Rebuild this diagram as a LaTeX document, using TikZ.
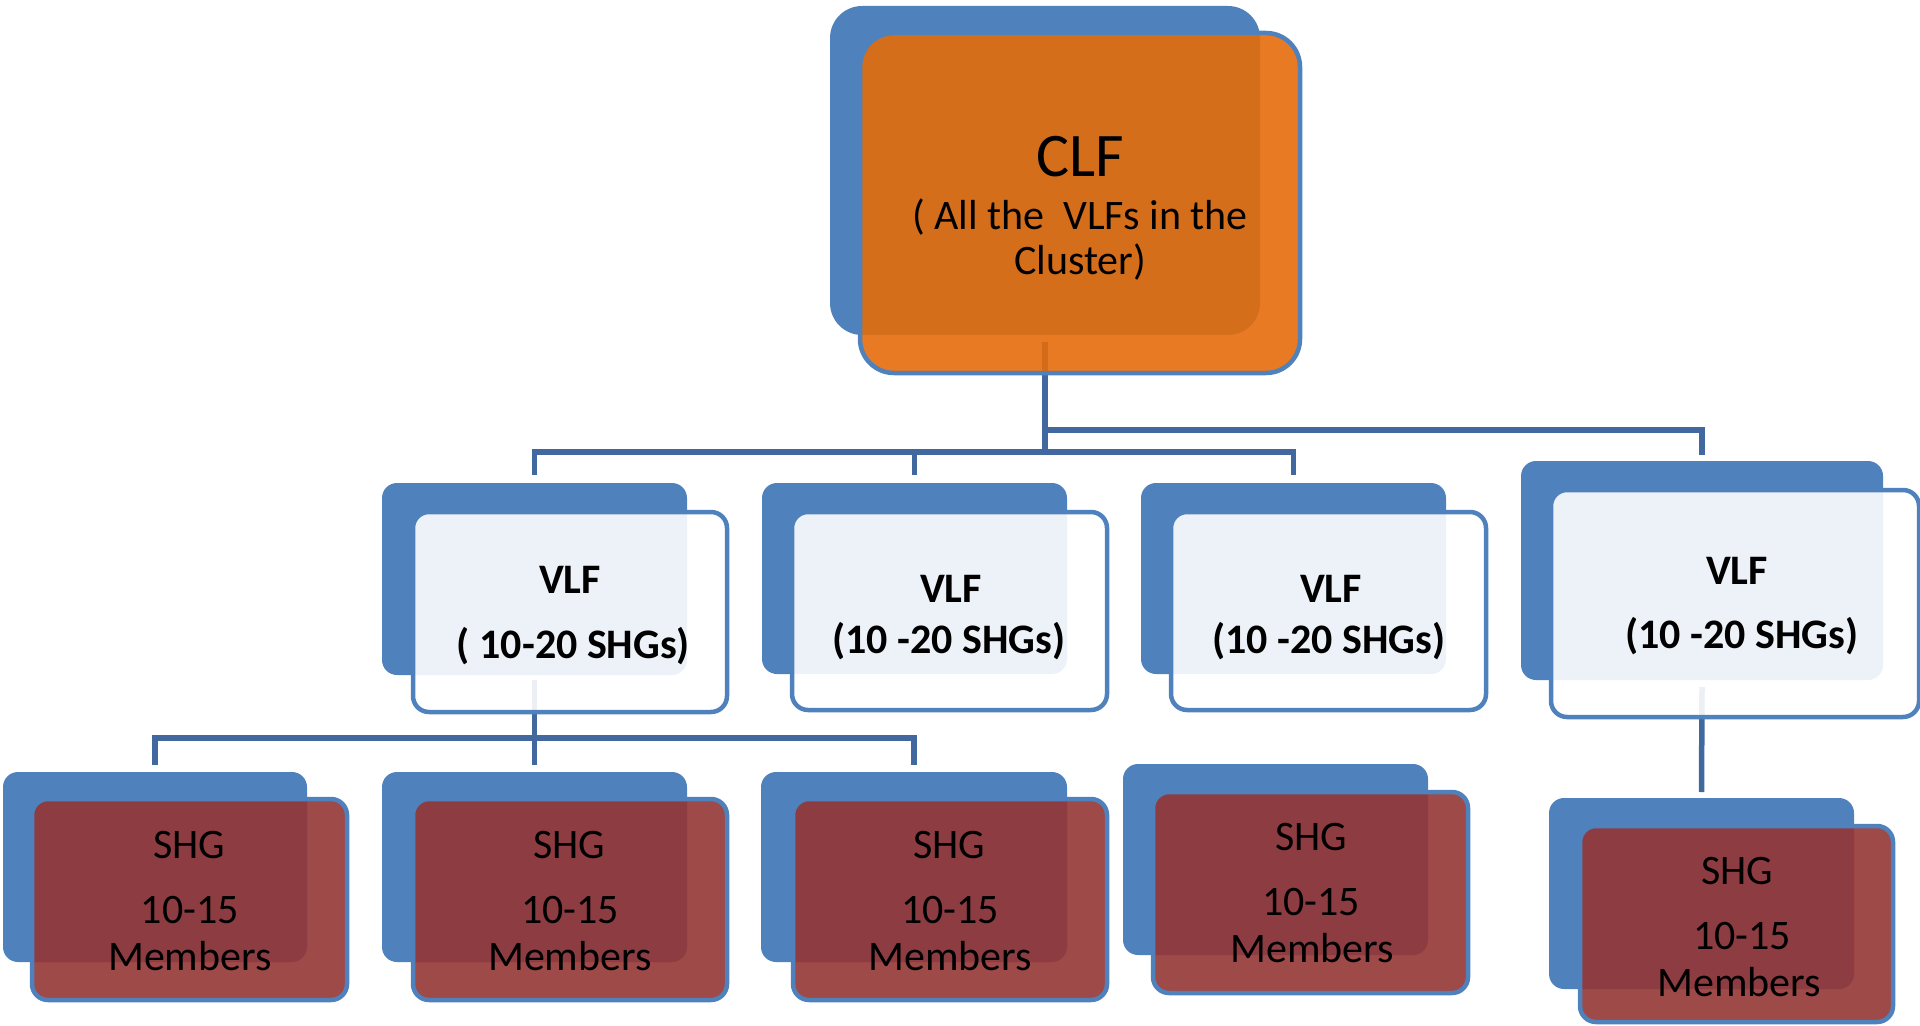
\documentclass[tikz,border=0pt]{standalone}
\usepackage{fontspec}
\setmainfont{Carlito}
\usetikzlibrary{calc,backgrounds}
\definecolor{backblue}{HTML}{4F81BD}
\definecolor{linkblue}{HTML}{41699F}
\definecolor{clforange}{HTML}{E46C0A}
\definecolor{shgred}{HTML}{943634}
\begin{document}
\begin{tikzpicture}[x=0.5pt,y=-0.5pt,
  back/.style={fill=backblue, draw=none, rounded corners=7.5pt, inner sep=0pt, outer sep=0pt},
  front/.style={draw=backblue, line width=2.25pt, rounded corners=8pt, inner sep=0pt, outer sep=0pt},
  clffront/.style={front, fill=clforange, fill opacity=0.9, rounded corners=17pt},
  vlffront/.style={front, fill=white, fill opacity=0.9},
  shgfront/.style={front, fill=shgred, fill opacity=0.9},
  conn/.style={draw=linkblue, line width=2.75pt},
  txt/.style={anchor=base, inner sep=0pt, text=black, font=\fontsize{21pt}{25pt}\selectfont},
  btxt/.style={txt, font=\fontsize{21pt}{25pt}\selectfont\bfseries},
  bigtxt/.style={txt, font=\fontsize{31pt}{37pt}\selectfont}
]
\useasboundingbox (0,0) rectangle (1920,1026);

% ---- CLF ----
\node[back, rounded corners=16pt, minimum width=215pt, minimum height=164.5pt] (clfback) at (1045,170.5) {};
\node[clffront, minimum width=220pt, minimum height=170pt] (clffront) at (1080,203) {};
\node[bigtxt] (clft1) at (1080,177) {CLF};
\node[txt] (clft2) at (1080,230) {( All the\ \ VLFs in the};
\node[txt] (clft3) at (1080,275) {Cluster)};

% ---- VLF boxes ----
\node[back, minimum width=152.5pt, minimum height=96pt] (vlf1back) at (534.5,579) {};
\node[vlffront, minimum width=157pt, minimum height=100pt] (vlf1front) at (570,612) {};
\node[btxt] (vlf1a) at (570,593) {VLF};
\node[btxt] (vlf1b) at (573.5,658) {( 10-20 SHGs)};

\node[back, minimum width=152.5pt, minimum height=95.5pt] (vlf2back) at (914.5,578.5) {};
\node[vlffront, minimum width=157.5pt, minimum height=99pt] (vlf2front) at (949.5,611) {};
\node[btxt] (vlf2a) at (951,602) {VLF};
\node[btxt] (vlf2b) at (949,653) {(10 -20 SHGs)};

\node[back, minimum width=152.5pt, minimum height=95.5pt] (vlf3back) at (1293.5,578.5) {};
\node[vlffront, minimum width=157.5pt, minimum height=99pt] (vlf3front) at (1328.5,611) {};
\node[btxt] (vlf3a) at (1331,602) {VLF};
\node[btxt] (vlf3b) at (1329,653) {(10 -20 SHGs)};

\node[back, minimum width=181pt, minimum height=109.5pt] (vlf4back) at (1702,570.5) {};
\node[vlffront, minimum width=184pt, minimum height=113.5pt] (vlf4front) at (1735,603.5) {};
\node[btxt] (vlf4a) at (1737,584) {VLF};
\node[btxt] (vlf4b) at (1742,648) {(10 -20 SHGs)};

% ---- SHG boxes ----
\node[back, minimum width=152pt, minimum height=95pt] (shg1back) at (155,867) {};
\node[shgfront, minimum width=157.5pt, minimum height=100.5pt] (shg1front) at (189.5,899.5) {};
\node[txt] (shg1a) at (189,858) {SHG};
\node[txt] (shg1b) at (190,923) {10-15};
\node[txt] (shg1c) at (190,970) {Members};

\node[back, minimum width=152.5pt, minimum height=95pt] (shg2back) at (534.5,867) {};
\node[shgfront, minimum width=157pt, minimum height=100.5pt] (shg2front) at (570,899.5) {};
\node[txt] (shg2a) at (569,858) {SHG};
\node[txt] (shg2b) at (570,923) {10-15};
\node[txt] (shg2c) at (570,970) {Members};

\node[back, minimum width=153pt, minimum height=95pt] (shg3back) at (914,867) {};
\node[shgfront, minimum width=157pt, minimum height=100.5pt] (shg3front) at (950,899.5) {};
\node[txt] (shg3a) at (949,858) {SHG};
\node[txt] (shg3b) at (950,923) {10-15};
\node[txt] (shg3c) at (950,970) {Members};

\node[back, minimum width=152.5pt, minimum height=95.5pt] (shg4back) at (1275.5,859.5) {};
\node[shgfront, minimum width=157.5pt, minimum height=100.5pt] (shg4front) at (1310.5,892.5) {};
\node[txt] (shg4a) at (1311,850) {SHG};
\node[txt] (shg4b) at (1311,915) {10-15};
\node[txt] (shg4c) at (1312,962) {Members};

\node[back, minimum width=152.5pt, minimum height=95.5pt] (shg5back) at (1701.5,893.5) {};
\node[shgfront, minimum width=156.5pt, minimum height=98pt] (shg5front) at (1736.5,924) {};
\node[txt] (shg5a) at (1737,884) {SHG};
\node[txt] (shg5b) at (1742,949) {10-15};
\node[txt] (shg5c) at (1739,996) {Members};

% ---- connectors ----
\coordinate (busA) at (0,452);
\coordinate (busB) at (0,430);
\coordinate (busC) at (0,738);
\begin{pgfonlayer}{background}
  \draw[conn] ($(clfback.south)+(0,7)$) -- (clfback.south |- busA);
  \draw[conn] ($(vlf1back.north)+(0,-8)$) |- (busA -| vlf3back.north) -- ($(vlf3back.north)+(0,-8)$);
  \draw[conn] ($(vlf2back.north)+(0,-8)$) -- (vlf2back.north |- busA);
  \draw[conn] (clfback.south |- busB) -| ($(vlf4back.north)+(0,-6)$);
  \draw[conn] ($(vlf1back.south)+(0,5)$) -- (vlf1back.south |- busC);
  \draw[conn] ($(shg1back.north)+(0,-7)$) |- (busC -| shg3back.north) -- ($(shg3back.north)+(0,-7)$);
  \draw[conn] ($(shg2back.north)+(0,-7)$) -- (shg2back.north |- busC);
  \draw[conn] ($(vlf4back.south)+(0,7)$) -- ($(shg5back.north)+(0,-6)$);
\end{pgfonlayer}
\end{tikzpicture}
\end{document}
